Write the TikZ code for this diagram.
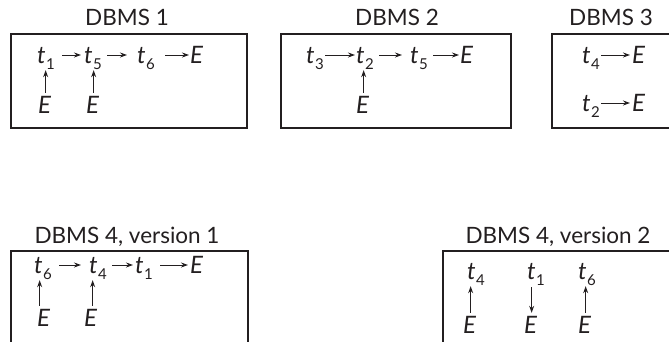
\documentclass[tikz,border=0pt]{standalone}
\usepackage{fontspec}
\setmainfont{Lato}
\usetikzlibrary{arrows.meta}
\definecolor{inkgray}{RGB}{35,31,32}
\newcommand{\tx}[1]{\textit{t}\kern0.5pt\raisebox{-0.5ex}{\upshape\fontsize{15}{15}\selectfont #1}}
\tikzset{
  panel/.style={draw=inkgray, line width=1.1pt},
  title/.style={font=\fontsize{22.5}{24}\selectfont, text=inkgray, anchor=base},
  item/.style={font=\fontsize{24}{26}\selectfont\itshape, text=inkgray, anchor=base west, inner sep=1pt, text height=16pt, text depth=0pt},
  arrow/.style={-{Stealth[length=7pt,width=5pt]}, line width=1pt, draw=inkgray},
  uparrow/.style={arrow, shorten <=3pt, shorten >=6pt},
  downarrow/.style={arrow, shorten <=7pt, shorten >=3pt}
}

\begin{document}
\begin{tikzpicture}[x=1pt, y=-1pt]
  \useasboundingbox (0,0) rectangle (669,341);
  \clip (0,0) rectangle (669,341);

  % panels
  \draw[panel] (11,34) rectangle (247,128);
  \draw[panel] (281,34) rectangle (511,128);
  \draw[panel] (552,34) rectangle (690,128);
  \draw[panel] (11,251) rectangle (248,360);
  \draw[panel] (443,251) rectangle (690,360);

  \node[title] (hA) at (127,25) {DBMS 1};
  \node[title] (hB) at (397,25) {DBMS 2};
  \node[title] (hC) at (611,25) {DBMS 3};
  \node[title] (hD) at (127,243) {DBMS 4, version 1};
  \node[title] (hE) at (558,243) {DBMS 4, version 2};

  % DBMS 1
  \node[item] (aT1) at (36,63) {\tx{1}};
  \node[item] (aT5) at (83,63) {\tx{5}};
  \node[item] (aT6) at (136,63) {\tx{6}};
  \node[item] (aE) at (189,63) {E};
  \node[item] (aU1) at (37,113) {E};
  \node[item] (aU5) at (85,113) {E};

  % DBMS 2
  \node[item] (bT3) at (305,63) {\tx{3}};
  \node[item] (bT2) at (355,63) {\tx{2}};
  \node[item] (bT5) at (409,63) {\tx{5}};
  \node[item] (bE) at (459,63) {E};
  \node[item] (bU2) at (355,113) {E};

  % DBMS 3
  \node[item] (cT4) at (581,63) {\tx{4}};
  \node[item] (cE) at (631,63) {E};
  \node[item] (cT2) at (581,111) {\tx{2}};
  \node[item] (cF) at (631,111) {E};

  % DBMS 4, version 1
  \node[item] (dT6) at (33,273) {\tx{6}};
  \node[item] (dT4) at (88,273) {\tx{4}};
  \node[item] (dT1) at (134,273) {\tx{1}};
  \node[item] (dE) at (189,273) {E};
  \node[item] (dU6) at (36,326) {E};
  \node[item] (dU4) at (83,326) {E};

  % DBMS 4, version 2
  \node[item] (eT4) at (466,279) {\tx{4}};
  \node[item] (eT1) at (526,279) {\tx{1}};
  \node[item] (eT6) at (577,279) {\tx{6}};
  \node[item] (eU4) at (462,333) {E};
  \node[item] (eD1) at (523,333) {E};
  \node[item] (eU6) at (577,333) {E};

  \foreach \a/\b/\p/\q in {aT1/aT5/6/2, aT5/aT6/4/9, aT6/aE/9/0, bT3/bT2/0/0, bT2/bT5/4/7, bT5/bE/4/0,
      cT4/cE/0/1, cT2/cF/0/1, dT6/dT4/6/7, dT4/dT1/4/1, dT1/dE/6/1}
    \draw[arrow, shorten <=\p pt, shorten >=\q pt] (\a) -- (\b);

  \foreach \e/\t/\dx in {aU1/aT1/1, aU5/aT5/1, bU2/bT2/1, dU6/dT6/-4, dU4/dT4/2, eU4/eT4/1, eU6/eT6/1}
    \draw[uparrow] ([xshift=\dx pt]\e.north) -- ([xshift=\dx pt]\e.north |- \t.south);
  \draw[downarrow] ([xshift=1pt]eD1.north |- eT1.south) -- ([xshift=1pt]eD1.north);
\end{tikzpicture}
\end{document}
